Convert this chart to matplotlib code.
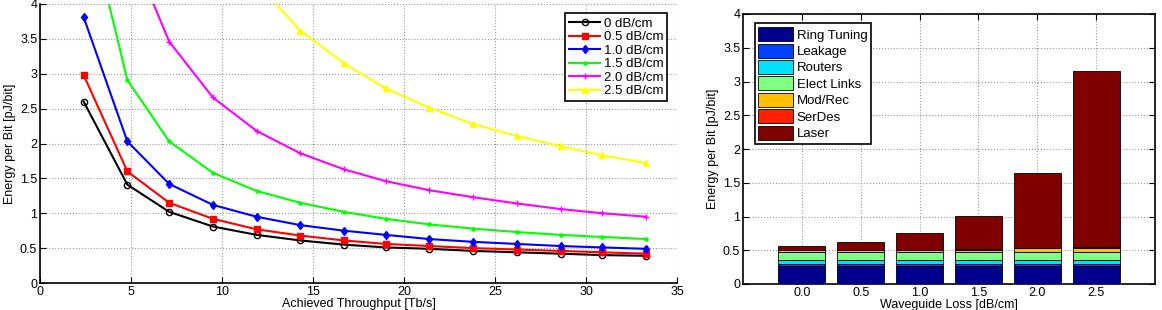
import numpy as np
import matplotlib.pyplot as plt

plt.rcParams['font.family'] = ['Liberation Sans', 'DejaVu Sans']
plt.rcParams['font.size'] = 9

# left panel: energy per bit vs throughput for several waveguide losses
throughput = [2.4, 4.8, 7.1, 9.5, 11.9, 14.3, 16.7, 19.0, 21.4, 23.8, 26.2, 28.6, 30.9, 33.3]
loss_labels = ["0 dB/cm", "0.5 dB/cm", "1.0 dB/cm", "1.5 dB/cm", "2.0 dB/cm", "2.5 dB/cm"]
e_00 = [2.60, 1.41, 1.02, 0.81, 0.69, 0.61, 0.55, 0.51, 0.49, 0.46, 0.44, 0.42, 0.40, 0.39]
e_05 = [2.98, 1.60, 1.15, 0.92, 0.77, 0.68, 0.61, 0.56, 0.53, 0.50, 0.48, 0.46, 0.44, 0.42]
e_10 = [3.81, 2.03, 1.42, 1.12, 0.95, 0.83, 0.75, 0.69, 0.63, 0.59, 0.56, 0.53, 0.51, 0.49]
e_15 = [5.50, 2.91, 2.03, 1.58, 1.32, 1.15, 1.02, 0.92, 0.84, 0.78, 0.73, 0.69, 0.66, 0.63]
e_20 = [9.50, 4.90, 3.46, 2.66, 2.18, 1.86, 1.63, 1.46, 1.33, 1.23, 1.14, 1.06, 1.00, 0.95]
e_25 = [21.0, 10.5, 7.00, 5.30, 4.30, 3.62, 3.15, 2.79, 2.51, 2.28, 2.11, 1.96, 1.83, 1.72]

# right panel: breakdown per waveguide loss
loss_ticks = ["0.0", "0.5", "1.0", "1.5", "2.0", "2.5"]
comp_names = ["Ring Tuning", "Leakage", "Routers", "Elect Links", "Mod/Rec", "SerDes", "Laser"]
ring_tuning = [0.27, 0.27, 0.27, 0.27, 0.27, 0.27]
leakage = [0.03, 0.03, 0.03, 0.03, 0.03, 0.03]
routers = [0.06, 0.06, 0.06, 0.06, 0.06, 0.06]
elect_links = [0.12, 0.12, 0.12, 0.12, 0.12, 0.12]
mod_rec = [0.02, 0.02, 0.02, 0.03, 0.05, 0.06]
serdes = [0.005, 0.005, 0.005, 0.005, 0.005, 0.005]
laser = [0.055, 0.115, 0.245, 0.495, 1.105, 2.615]

fig = plt.figure(figsize=(11.62, 3.10), dpi=100)
ax1 = fig.add_axes([40 / 1162, 1 - 283 / 310, 637 / 1162, 279 / 310])
ax2 = fig.add_axes([743 / 1162, 1 - 284 / 310, 412 / 1162, 270 / 310])

series = [e_00, e_05, e_10, e_15, e_20, e_25]
colors = ["black", "red", "blue", "#00ff00", "magenta", "yellow"]
markers = ["o", "s", "d", ".", "+", "^"]
for vals, c, m, lab in zip(series, colors, markers, loss_labels):
    ax1.plot(throughput, vals, color=c, marker=m, markersize=4.5, linewidth=1.5,
             markerfacecolor="none" if m == "o" else c, label=lab)

ax1.set_xlim(0, 35)
ax1.set_ylim(0, 4)
ax1.set_xticks(np.arange(0, 36, 5))
ax1.set_yticks(np.arange(0, 4.01, 0.5))
ax1.set_yticklabels(["0", "0.5", "1", "1.5", "2", "2.5", "3", "3.5", "4"])
ax1.set_xlabel("Achieved Throughput [Tb/s]", labelpad=0)
ax1.set_ylabel("Energy per Bit [pJ/bit]", labelpad=3)
ax1.spines["top"].set_visible(False)
ax1.spines["right"].set_visible(False)
ax1.spines["left"].set_linewidth(1.2)
ax1.spines["bottom"].set_linewidth(1.2)
ax1.tick_params(direction="in", length=4, pad=2)
ax1.grid(True, linestyle=":", color="#999999", linewidth=0.8)
leg1 = ax1.legend(loc="upper right", bbox_to_anchor=(0.995, 0.99), fancybox=False,
                  edgecolor="black", framealpha=1, borderpad=0.3, labelspacing=0.1,
                  handlelength=2.3, handletextpad=0.3, fontsize=9.5)
leg1.get_frame().set_linewidth(1.2)

# stacked bars
x = np.arange(1, 7)
comp_vals = [ring_tuning, leakage, routers, elect_links, mod_rec, serdes, laser]
comp_colors = ["#00008f", "#0040ff", "#00e0ff", "#80ff80", "#ffc000", "#ff2000", "#800000"]
bottom = np.zeros(6)
for vals, c, name in zip(comp_vals, comp_colors, comp_names):
    ax2.bar(x, vals, width=0.8, bottom=bottom, color=c, edgecolor="black",
            linewidth=0.6, label=name, zorder=3)
    bottom = bottom + np.array(vals)

ax2.set_xlim(0, 7)
ax2.set_ylim(0, 4)
ax2.set_xticks(x)
ax2.set_xticklabels(loss_ticks)
ax2.set_yticks(np.arange(0, 4.01, 0.5))
ax2.set_yticklabels(["0", "0.5", "1", "1.5", "2", "2.5", "3", "3.5", "4"])
ax2.set_xlabel("Waveguide Loss [dB/cm]", labelpad=0)
ax2.set_ylabel("Energy per Bit [pJ/bit]", labelpad=3)
ax2.tick_params(direction="in", length=4, top=True, right=True, pad=2)
ax2.grid(True, linestyle=":", color="#999999", linewidth=0.8, zorder=0)
for s in ax2.spines.values():
    s.set_linewidth(1.2)
leg2 = ax2.legend(loc="upper left", bbox_to_anchor=(0.012, 0.99), fancybox=False,
                  edgecolor="black", framealpha=1, borderpad=0.3, labelspacing=0.15,
                  handlelength=2.6, handleheight=1.25, handletextpad=0.3, fontsize=9.5)
leg2.get_frame().set_linewidth(1.2)

fig.savefig("out.png", dpi=100)
